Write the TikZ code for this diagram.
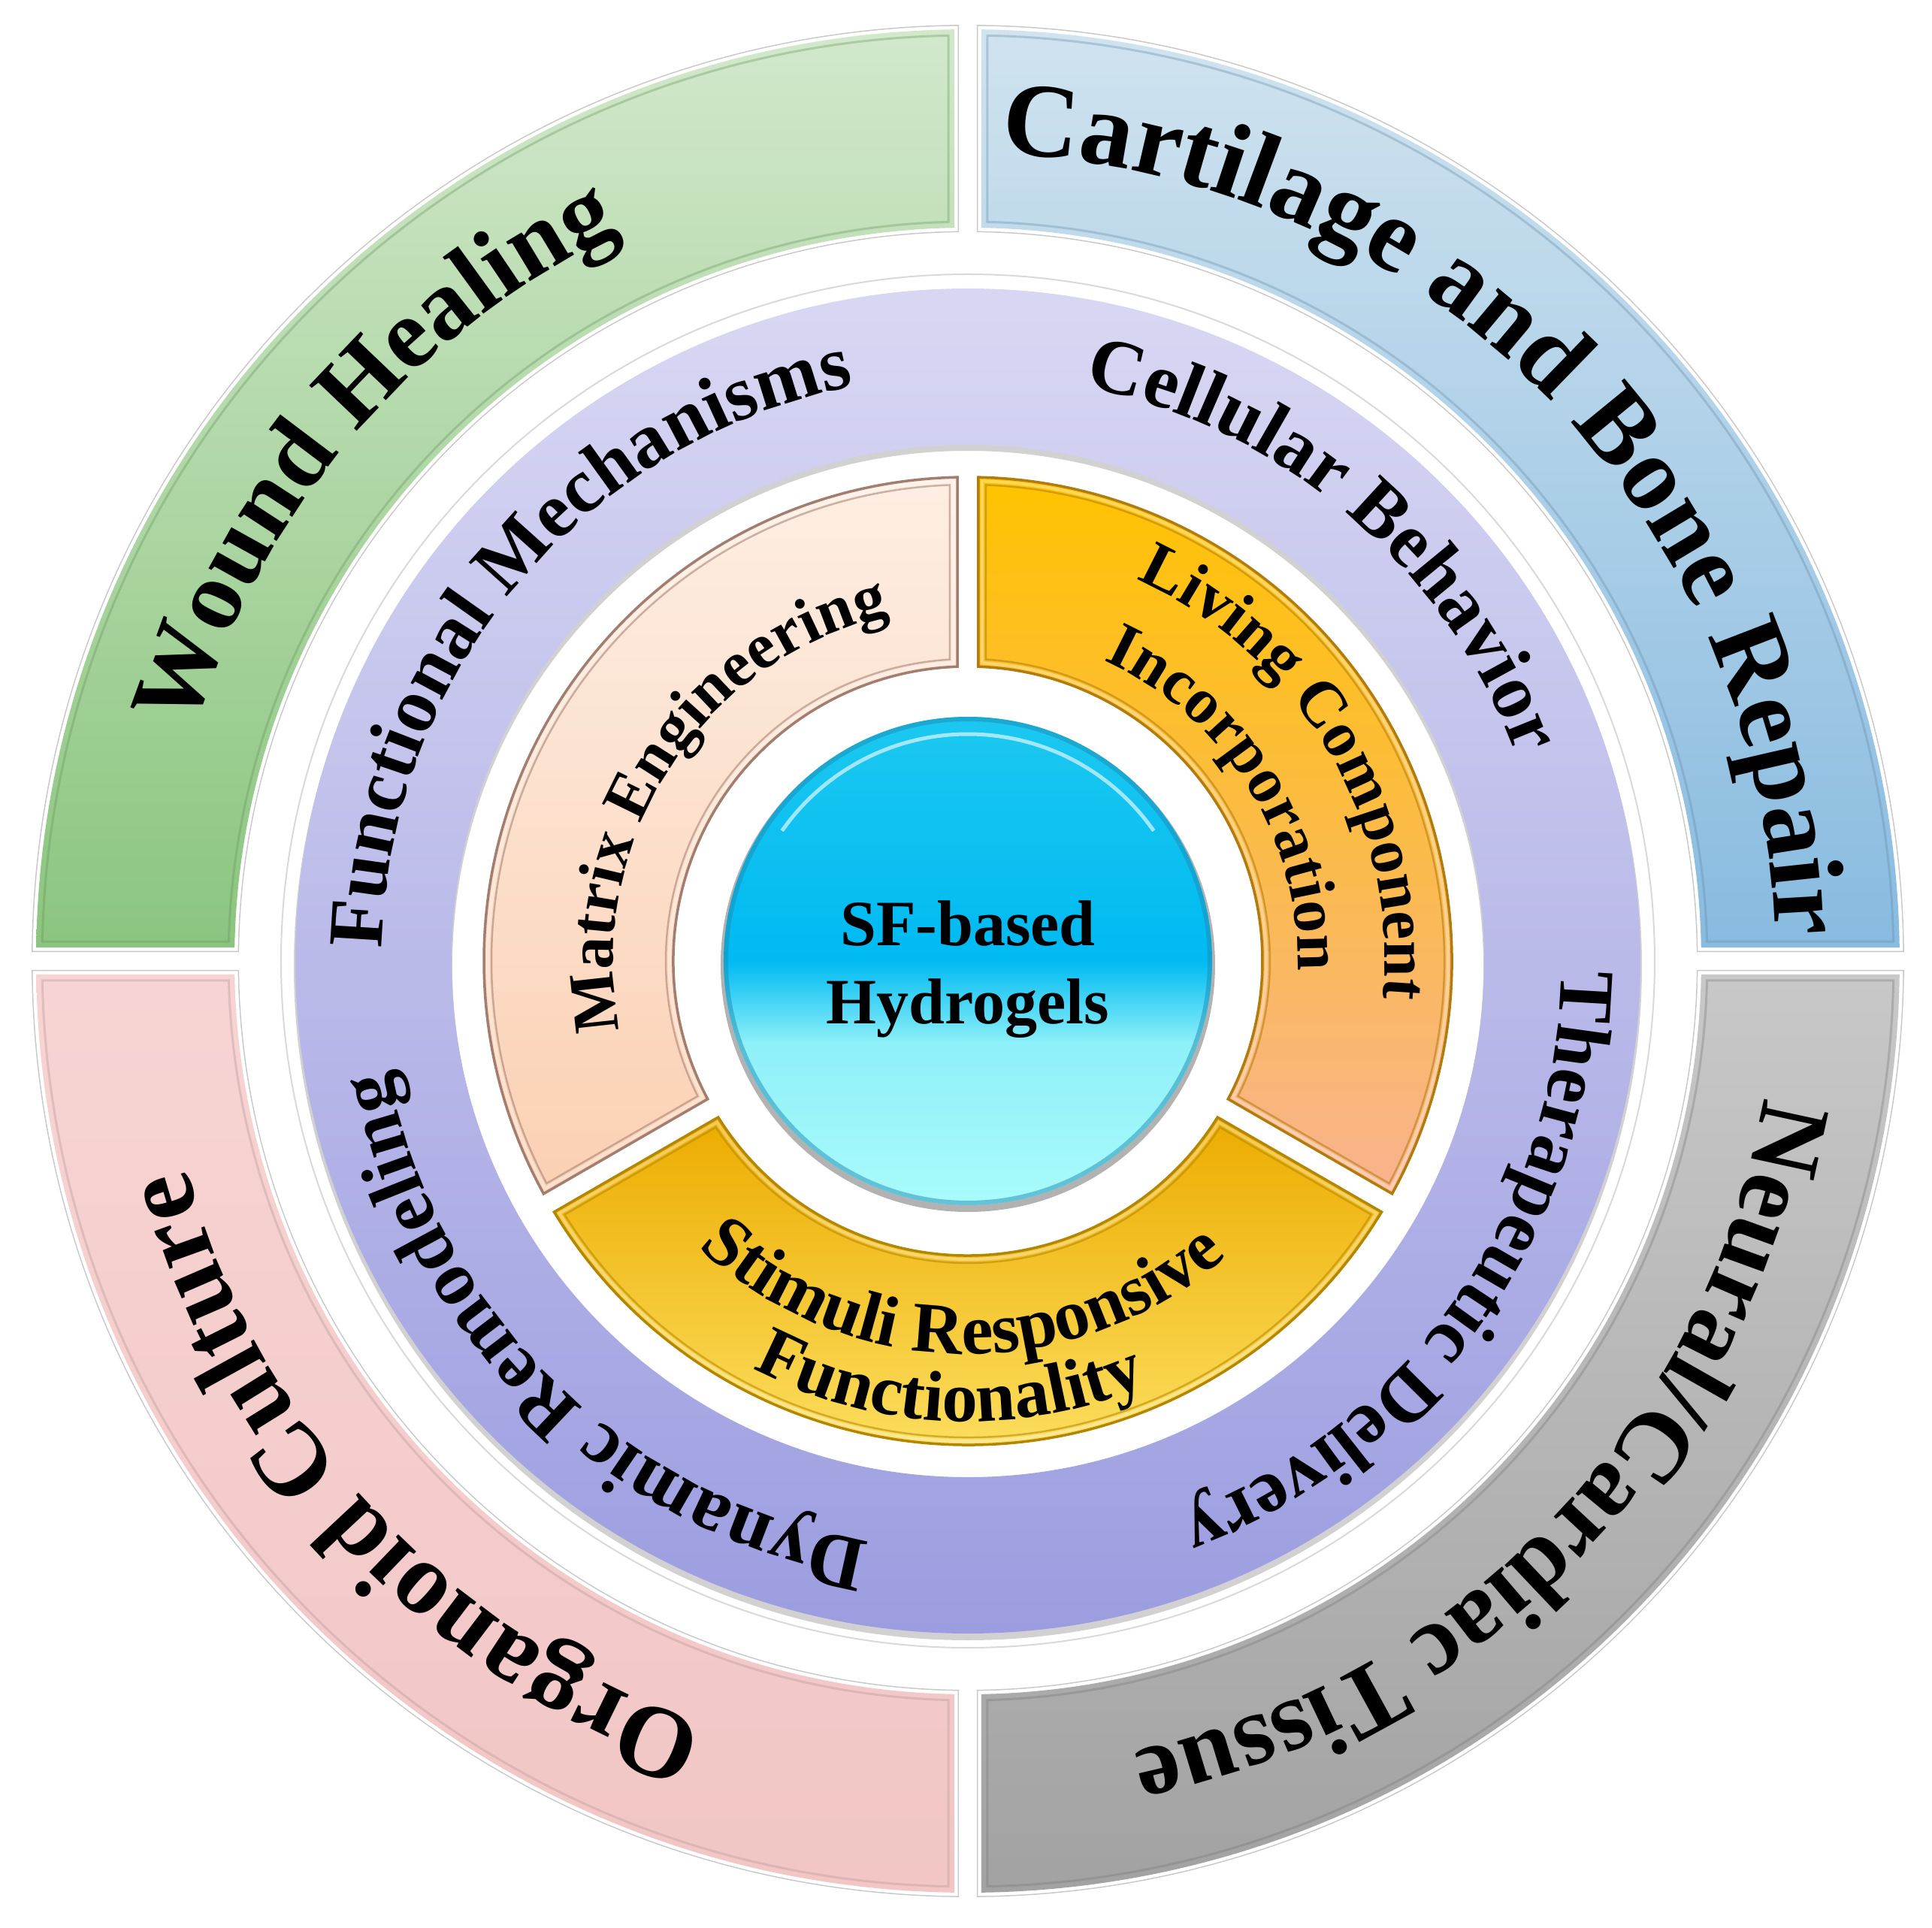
\documentclass[tikz,border=0pt]{standalone}
\usepackage{fontspec}
\setmainfont{Liberation Serif}
\usetikzlibrary{decorations.text}

\definecolor{woundtop}{HTML}{D2E8CB}
\definecolor{woundbot}{HTML}{8BC57F}
\definecolor{bonetop}{HTML}{D0E3EF}
\definecolor{bonebot}{HTML}{88BBE0}
\definecolor{neuraltop}{HTML}{C9C8C8}
\definecolor{neuralbot}{HTML}{A3A2A2}
\definecolor{organtop}{HTML}{F7D4D3}
\definecolor{organbot}{HTML}{F1C6C5}
\definecolor{ringtop}{HTML}{D8D7F3}
\definecolor{ringbot}{HTML}{9C9DE0}
\definecolor{matrixtop}{HTML}{FDEEE3}
\definecolor{matrixbot}{HTML}{FBD0B3}
\definecolor{matrixedge}{HTML}{A27E70}
\definecolor{livingtop}{HTML}{FFC300}
\definecolor{livingbot}{HTML}{F8B38E}
\definecolor{livingedge}{HTML}{B07C10}
\definecolor{stimtop}{HTML}{ECAC00}
\definecolor{stimbot}{HTML}{FFE770}
\definecolor{stimedge}{HTML}{B38600}
\definecolor{coretop}{HTML}{1CC8F0}
\definecolor{coremid}{HTML}{00BAF2}
\definecolor{corelow}{HTML}{8EF0F8}
\definecolor{corebot}{HTML}{AAFBFB}
\definecolor{corerim}{HTML}{1E8CB4}

\newcommand{\outerfont}[1]{\fontsize{#1}{#1}\selectfont\bfseries}
\newcommand{\ringfont}{\fontsize{29.5pt}{35pt}\selectfont\bfseries}
\newcommand{\innerfont}{\fontsize{24.5pt}{29pt}\selectfont\bfseries}
\newcommand{\stimfont}{\fontsize{27pt}{32pt}\selectfont\bfseries}
\newcommand{\corefont}{\fontsize{24.5pt}{29.5pt}\selectfont\bfseries}

% (start, end, r_in, r_out, half gap)
\newcommand{\ringsector}[5]{({#1+asin(#5/#4)}:#4) arc[start angle={#1+asin(#5/#4)}, end angle={#2-asin(#5/#4)}, radius=#4] -- ({#2-asin(#5/#3)}:#3) arc[start angle={#2-asin(#5/#3)}, end angle={#1+asin(#5/#3)}, radius=#3] -- cycle}

\newcommand{\arctext}[4]{
    \path[decorate, decoration={text along path, text align=center, text={|#3|#4}}]
      ({#1+75}:#2) arc[start angle={#1+75}, end angle={#1-75}, radius=#2];
}
\newcommand{\arctextup}[4]{
    \path[decorate, decoration={text along path, text align=center, text={|#3|#4}}]
      ({#1-75}:#2) arc[start angle={#1-75}, end angle={#1+75}, radius=#2];
}
\newcommand{\quadpiece}[7]{
    \draw[black!22, line width=0.12cm] \ringsector{#1}{#2}{9.76}{12.40}{0.18};
    \draw[white, line width=0.09cm] \ringsector{#1}{#2}{9.76}{12.40}{0.18};
    \shade[top color=#3, bottom color=#4] \ringsector{#1}{#2}{9.76}{12.40}{0.18};
    \draw[#4!75!black, opacity=0.35, line width=0.03cm] \ringsector{#1}{#2}{9.84}{12.32}{0.26};
    \arctext{#5}{10.75}{\outerfont{#6}}{#7}
}
\newcommand{\innerpiece}[5]{
    \shade[top color=#3, bottom color=#4] \ringsector{#1}{#2}{3.92}{6.44}{0.14};
    \draw[#5, line width=0.035cm] \ringsector{#1}{#2}{3.92}{6.44}{0.14};
    \draw[white, opacity=0.35, line width=0.04cm] \ringsector{#1}{#2}{3.97}{6.39}{0.19};
    \draw[#5, opacity=0.55, line width=0.025cm] \ringsector{#1}{#2}{4.02}{6.34}{0.24};
}

\begin{document}
\begin{tikzpicture}

  \useasboundingbox (-12.88,-12.87) rectangle (12.83,12.79);

  % outer ring: (start, end, colours, text angle, font size, text)
  \quadpiece{90}{180}{woundtop}{woundbot}{139.5}{38pt}{Wound Healing}
  \quadpiece{0}{90}{bonetop}{bonebot}{44.7}{40pt}{Cartilage and Bone Repair}
  \quadpiece{-90}{0}{neuraltop}{neuralbot}{-44}{38pt}{Neural/Cardiac Tissue}
  \quadpiece{180}{270}{organtop}{organbot}{-137}{39pt}{Organoid Culture}

  % middle ring
  \draw[black!15, line width=0.02cm] (0,0) circle (9.14);
  \fill[black!18, even odd rule] (0,-0.07) circle (8.97) (0,-0.07) circle (6.86);
  \shade[top color=ringtop, bottom color=ringbot, even odd rule]
    (0,0) circle (8.95) (0,0) circle (6.87);
  \arctext{140}{7.80}{\ringfont}{Functional Mechanisms}
  \arctext{49.5}{7.80}{\ringfont}{Cellular Behavior}
  \arctext{-35}{7.90}{\ringfont}{Therapeutic Delivery}
  \arctext{-134.5}{7.84}{\ringfont}{Dynamic Remodeling}

  % inner ring
  \innerpiece{90}{210}{matrixtop}{matrixbot}{matrixedge}
  \innerpiece{-30}{90}{livingtop}{livingbot}{livingedge}
  \innerpiece{210}{330}{stimtop}{stimbot}{stimedge}
  \arctext{147}{4.72}{\innerfont}{Matrix Engineering}
  \arctext{30.5}{5.55}{\innerfont}{Living Component}
  \arctext{32}{4.39}{\innerfont}{Incorporation}
  \arctextup{-91}{5.23}{\stimfont}{Stimuli Responsive}
  \arctextup{-92.5}{6.13}{\stimfont}{Functionality}

  % core
  \fill[black!30] (0,-0.05) circle (3.29);
  \begin{scope}
    \clip (0,0) circle (3.25);
    \shade[top color=coretop, bottom color=coremid] (-3.3,0) rectangle (3.3,3.3);
    \shade[top color=coremid, bottom color=corelow] (-3.3,-1.1) rectangle (3.3,0.01);
    \shade[top color=corelow, bottom color=corebot] (-3.3,-3.3) rectangle (3.3,-1.09);
  \end{scope}
  \draw[corerim, opacity=0.5, line width=0.06cm] (0,0) circle (3.22);
  \draw[white, opacity=0.6, line width=0.05cm] (145:3.02) arc[start angle=145, end angle=35, radius=3.02];
  \node[font=\corefont, align=center] (core) at (0,-0.11) {SF-based\\Hydrogels};

\end{tikzpicture}
\end{document}
